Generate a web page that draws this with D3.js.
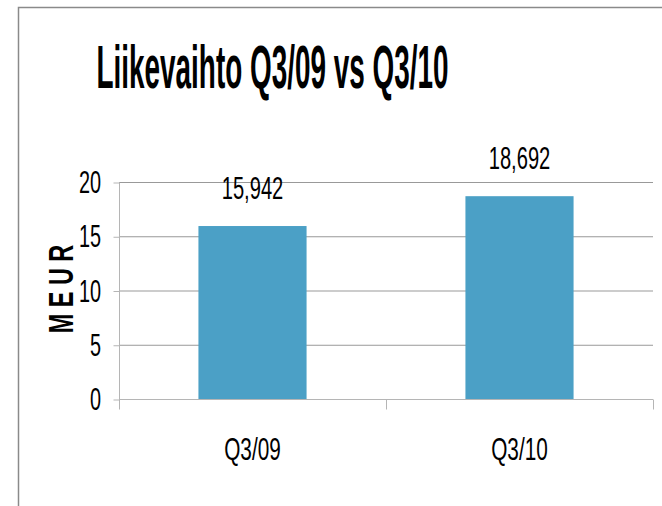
<!DOCTYPE html>
<html>
<head>
<meta charset="utf-8">
<script src="https://cdn.jsdelivr.net/npm/d3@7"></script>
<style>
  body { margin: 0; background: #fff; }
  text { font-family: "Liberation Sans", Arial, sans-serif; fill: #000; }
</style>
</head>
<body>
<svg id="chart" width="662" height="506"></svg>
<script>
// --- data ---
const categories = ["Q3/09", "Q3/10"];
const values = [15.942, 18.692];
const valueLabels = ["15,942", "18,692"];
const yTicks = [0, 5, 10, 15, 20];
const title = "Liikevaihto Q3/09 vs Q3/10";
const yTitle = "M E U R";

const svg = d3.select("#chart");
const margin = { left: 119, right: 9, top: 182, bottom: 107 };
const width = 662, height = 506;
const SX = 0.64; // narrow text squeeze

// outer frame
svg.append("rect")
    .attr("x", 18.5).attr("y", 7.5)
    .attr("width", 700).attr("height", 600)
    .attr("fill", "none").attr("stroke", "#8a8a8a").attr("stroke-width", 1.5);

const x = d3.scaleBand().domain(categories)
    .range([margin.left, width - margin.right]);
const xBar = d3.scaleBand().domain(categories)
    .range([margin.left, width - margin.right])
    .paddingInner(0.595).paddingOuter(0.2975);
const y = d3.scaleLinear().domain([0, 20])
    .range([height - margin.bottom, margin.top]);

// gridlines
svg.append("g").selectAll("line").data(yTicks.filter(d => d > 0)).enter().append("line")
    .attr("x1", margin.left).attr("x2", width - margin.right)
    .attr("y1", d => y(d) + 0.5).attr("y2", d => y(d) + 0.5)
    .attr("stroke", "#999").attr("stroke-width", 1);

// bars
svg.append("g").selectAll("rect").data(values).enter().append("rect")
    .attr("x", (d, i) => xBar(categories[i]))
    .attr("width", xBar.bandwidth())
    .attr("y", d => y(d))
    .attr("height", d => y(0) - y(d))
    .attr("fill", "#4ba0c6");

// y axis
const yAxis = svg.append("g").attr("transform", `translate(${margin.left + 0.5},0.5)`)
    .call(d3.axisLeft(y).tickValues(yTicks).tickSize(6).tickFormat(""));
yAxis.select(".domain").attr("d", `M0,${y(20)}V${y(0) + 10}`).attr("stroke", "#b5b5b5");
yAxis.selectAll(".tick line").attr("stroke", "#b5b5b5");

// x axis
const xAxisG = svg.append("g").attr("transform", `translate(0,${y(0) + 0.5})`);
xAxisG.append("line").attr("x1", margin.left).attr("x2", width - margin.right)
    .attr("stroke", "#b5b5b5");
xAxisG.selectAll("line.tick").data(categories).enter().append("line")
    .attr("class", "tick")
    .attr("x1", d => x(d) + x.bandwidth() + 0.5).attr("x2", d => x(d) + x.bandwidth() + 0.5)
    .attr("y1", 0).attr("y2", 10).attr("stroke", "#b5b5b5");

// y tick labels
svg.append("g").selectAll("text").data(yTicks).enter().append("text")
    .attr("transform", d => `translate(101,${y(d) + 11}) scale(${SX},1)`)
    .attr("text-anchor", "end")
    .attr("font-size", 31)
    .text(d => d);

// x tick labels
svg.append("g").selectAll("text").data(categories).enter().append("text")
    .attr("transform", d => `translate(${x(d) + x.bandwidth() / 2},460) scale(${SX + 0.03},1)`)
    .attr("text-anchor", "middle")
    .attr("font-size", 31)
    .text(d => d);

// value labels
svg.append("g").selectAll("text").data(values).enter().append("text")
    .attr("transform", (d, i) => `translate(${xBar(categories[i]) + xBar.bandwidth() / 2},${y(d) - 27}) scale(${SX + 0.01},1)`)
    .attr("text-anchor", "middle")
    .attr("font-size", 31)
    .text((d, i) => valueLabels[i]);

// title
svg.append("text")
    .attr("transform", `translate(${(100 + 445) / 2},88) scale(0.45,1)`)
    .attr("text-anchor", "middle")
    .attr("font-size", 62)
    .attr("font-weight", "bold")
    .text(title);

// y axis title
svg.append("text")
    .attr("transform", `translate(73,289) rotate(-90) scale(0.67,1)`)
    .attr("text-anchor", "middle")
    .attr("font-size", 35)
    .attr("font-weight", "bold")
    .text(yTitle);
</script>
</body>
</html>
